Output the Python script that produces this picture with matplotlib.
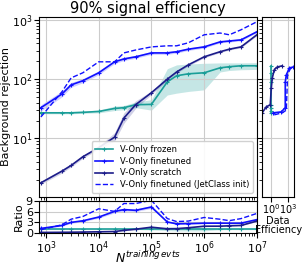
import numpy as np
import matplotlib
matplotlib.use("Agg")
import matplotlib.pyplot as plt

# training set sizes
n_train = [8e2, 2e3, 3e3, 5e3, 1e4, 2e4, 3e4, 5e4, 1e5, 2e5, 3e5, 5e5, 1e6, 2e6, 3e6, 5e6, 1e7]

# background rejection at 90% signal efficiency
frozen = [27, 27, 27, 27.5, 28.5, 32, 33, 37, 37.5, 90, 114, 123, 128, 155, 162, 168, 168]
frozen_lo = [26, 26, 26, 26.5, 27, 29.5, 30.5, 33, 30, 54, 58, 62, 66, 132, 140, 144, 146]
frozen_hi = [28.5, 28.5, 28.5, 29, 30, 35, 36, 41, 45, 150, 174, 180, 185, 188, 188, 188, 190]

finetuned = [33, 56, 80, 94, 128, 196, 219, 238, 277, 277, 290, 320, 350, 425, 440, 460, 630]
finetuned_lo = [29, 50, 73, 87, 119, 183, 206, 225, 262, 262, 275, 305, 334, 408, 423, 443, 607]
finetuned_hi = [37, 63, 88, 102, 138, 210, 233, 252, 293, 293, 306, 336, 367, 443, 458, 478, 654]

scratch = [1.78, 2.8, 3.5, 4.9, 7.0, 10.5, 22, 37, 59, 100, 132, 174, 238, 290, 320, 350, 560]
scratch_lo = [1.68, 2.6, 3.3, 4.6, 6.6, 9.0, 18, 32, 55, 95, 126, 167, 229, 280, 310, 338, 540]
scratch_hi = [1.9, 3.0, 3.7, 5.2, 7.4, 12.5, 27, 43, 63, 106, 138, 181, 247, 300, 331, 362, 580]

jetclass = [23, 61, 105, 128, 196, 196, 277, 310, 350, 365, 365, 410, 560, 600, 560, 680, 930]

# data efficiency side panel (efficiency, rejection)
eff_frozen = [1, 1, 1, 1, 1, 1, 1]
rej_frozen = [27, 28.5, 33, 37, 90, 128, 168]
eff_scratch = [0.026, 0.13, 0.67, 1.0, 1.5, 3.4, 11, 85]
rej_scratch = [27, 34, 37, 71, 105, 144, 160, 168]
eff_finetuned = [2.2, 57, 280, 280, 430, 1450, 7000]
rej_finetuned = [27, 28, 33, 90, 118, 155, 160]
eff_jetclass = [3.4, 85, 430, 650, 650, 2200, 10000]
rej_jetclass = [25, 27, 30, 90, 118, 150, 160]

labels = ["V-Only frozen", "V-Only finetuned", "V-Only scratch", "V-Only finetuned (JetClass init)"]
c_frozen = "#1a9e98"
c_fine = "#1010ff"
c_scr = "#1c1c8a"

x = np.array(n_train)
fr = np.array(frozen)

fig = plt.figure(figsize=(3.08, 2.65), dpi=100)
ax = fig.add_axes([0.127, 0.257, 0.707, 0.679])
axr = fig.add_axes([0.127, 0.122, 0.707, 0.118], sharex=ax)
axs = fig.add_axes([0.851, 0.257, 0.104, 0.679], sharey=ax)

mk = dict(marker="+", ms=3, mew=0.8, lw=1.2)
ax.fill_between(x, frozen_lo, frozen_hi, color=c_frozen, alpha=0.25, lw=0)
ax.plot(x, frozen, color=c_frozen, label=labels[0], **mk)
ax.fill_between(x, finetuned_lo, finetuned_hi, color=c_fine, alpha=0.2, lw=0)
ax.plot(x, finetuned, color=c_fine, label=labels[1], **mk)
ax.fill_between(x, scratch_lo, scratch_hi, color=c_scr, alpha=0.2, lw=0)
ax.plot(x, scratch, color=c_scr, label=labels[2], **mk)
ax.plot(x, jetclass, color=c_fine, ls="--", lw=1, label=labels[3])

ax.set_xscale("log")
ax.set_yscale("log")
ax.set_xlim(740, 1e7)
ax.set_ylim(1.03, 1120)
ax.set_title("90% signal efficiency", fontsize=10.5, pad=3)
ax.set_ylabel("Background rejection", fontsize=8, labelpad=1)
ax.tick_params(labelsize=8, labelbottom=False, pad=1)
ax.grid(True, which="major", color="#cccccc", lw=0.8)
ax.legend(loc="lower right", fontsize=6, handlelength=2.2, labelspacing=0.35,
          borderpad=0.4, framealpha=0.9)

# ratio to frozen
axr.fill_between(x, np.array(frozen_lo) / fr, np.array(frozen_hi) / fr, color=c_frozen, alpha=0.25, lw=0)
axr.plot(x, fr / fr, color=c_frozen, **mk)
axr.fill_between(x, np.array(finetuned_lo) / fr, np.array(finetuned_hi) / fr, color=c_fine, alpha=0.2, lw=0)
axr.plot(x, np.array(finetuned) / fr, color=c_fine, **mk)
axr.fill_between(x, np.array(scratch_lo) / fr, np.array(scratch_hi) / fr, color=c_scr, alpha=0.2, lw=0)
axr.plot(x, np.array(scratch) / fr, color=c_scr, **mk)
axr.plot(x, np.array(jetclass) / fr, color=c_fine, ls="--", lw=1)
axr.set_ylim(0, 9)
axr.set_yticks([0, 3, 6, 9])
axr.set_ylabel("Ratio", fontsize=8, labelpad=1)
axr.set_xlabel(r"$N^{training\,evts}$", fontsize=9)
axr.xaxis.set_label_coords(0.5, -0.56)
axr.tick_params(labelsize=8, pad=1)
axr.grid(True, which="major", color="#cccccc", lw=0.8)

# data efficiency
axs.plot(eff_frozen, rej_frozen, color=c_frozen, **mk)
axs.plot(eff_scratch, rej_scratch, color=c_scr, **mk)
axs.plot(eff_finetuned, rej_finetuned, color=c_fine, **mk)
axs.plot(eff_jetclass, rej_jetclass, color=c_fine, ls="--", lw=1)
axs.set_xscale("log")
axs.set_xlim(0.025, 1e4)
axs.set_xticks([1, 1e3])
axs.tick_params(labelsize=7, labelleft=False, pad=0)
axs.grid(True, which="major", color="#cccccc", lw=0.8)
axs.set_xlabel("Data\nEfficiency", fontsize=7, labelpad=0, linespacing=0.95)

fig.savefig("out.png", dpi=100)
